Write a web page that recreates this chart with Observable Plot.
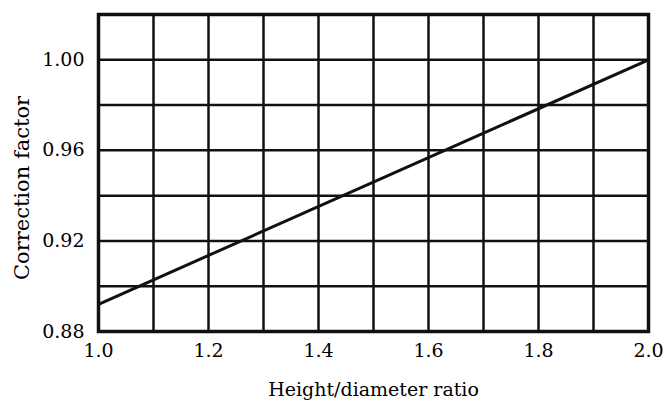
<!DOCTYPE html>
<html><head><meta charset="utf-8">
<script src="https://cdn.jsdelivr.net/npm/d3@7"></script>
<script src="https://cdn.jsdelivr.net/npm/@observablehq/plot@0.6"></script>
<style>body{margin:0;background:#fff;overflow:hidden}</style>
</head><body><div id="chart"></div>
<script>
const xGrid = [1.1,1.2,1.3,1.4,1.5,1.6,1.7,1.8,1.9];
const yGrid = [0.90,0.92,0.94,0.96,0.98,1.00];
const xTicks = [1.0,1.2,1.4,1.6,1.8,2.0];
const yTicks = [0.88,0.92,0.96,1.00];
const ratio = [1.0, 2.0];
const factor = [0.892, 1.00];
const line = ratio.map((r,i)=>({r, f: factor[i]}));
const yLabel = ["Correction factor"];

const chart = Plot.plot({
  width: 669, height: 401,
  marginLeft: 98, marginRight: 21, marginTop: 14, marginBottom: 70,
  style: {fontFamily: "'DejaVu Serif', serif", fontSize: "19px", color: "#000", background: "#fff", overflow: "visible"},
  x: {domain: [1.0, 2.0], ticks: xTicks, tickFormat: d3.format(".1f"), tickSize: 0, tickPadding: 12, label: "Height/diameter ratio", labelArrow: "none", labelAnchor: "center", labelOffset: 64},
  y: {domain: [0.88, 1.02], ticks: yTicks, tickFormat: d3.format(".2f"), tickSize: 0, tickPadding: 14, label: null},
  marks: [
    Plot.ruleX(xGrid, {stroke: "#111", strokeWidth: 2.5}),
    Plot.ruleY(yGrid, {stroke: "#111", strokeWidth: 2.5}),
    Plot.frame({stroke: "#111", strokeWidth: 3.5}),
    Plot.line(line, {x: "r", y: "f", stroke: "#111", strokeWidth: 3}),
    Plot.text(yLabel, {frameAnchor: "left", dx: -76, dy: 15, rotate: -90, textAnchor: "middle", lineAnchor: "middle", fontSize: 21, fill: "#000"})
  ]
});
document.getElementById("chart").appendChild(chart);
</script></body></html>
